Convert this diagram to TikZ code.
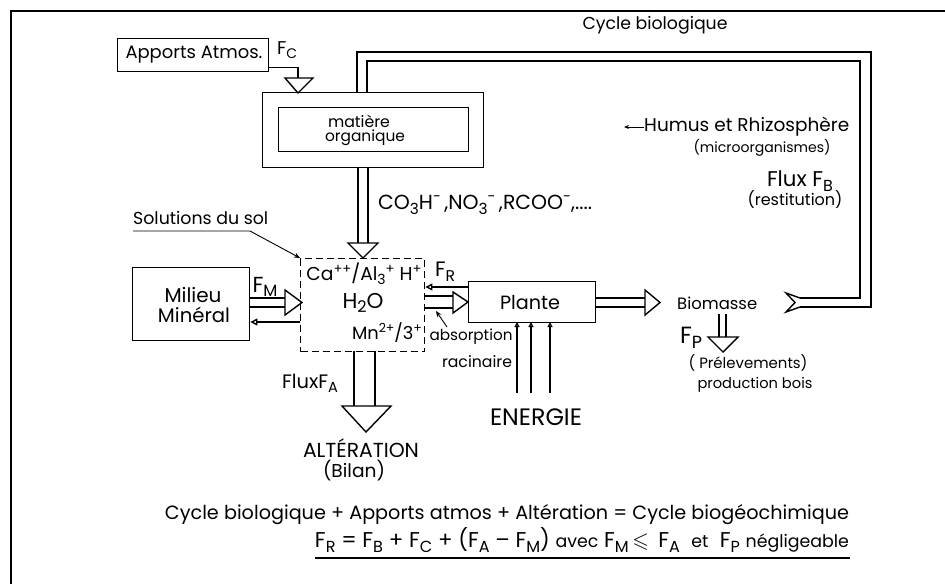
\documentclass[tikz,border=0pt]{standalone}
\usepackage{fontspec}
\setmainfont{Poppins}
\usepackage{amssymb}
\usetikzlibrary{arrows.meta,calc}
\newcommand\dn[1]{\raisebox{-0.4ex}{\scalebox{0.75}{#1}}}
\newcommand\up[1]{\raisebox{0.75ex}{\scalebox{0.7}{#1}}}
\newcommand\fitw[2]{\resizebox{#1pt}{!}{#2}}
\tikzset{
  ln/.style={line width=1.4pt},
  thinln/.style={line width=0.9pt},
  box/.style={draw,line width=1.4pt,inner sep=0pt,anchor=north west},
  lab/.style={inner sep=0pt,font=\fontsize{16}{16}\selectfont},
  opentip/.style={-{Triangle[open,length=7pt,width=7pt]}},
  smalltip/.style={-{Triangle[open,length=5pt,width=5pt]}},
}
\begin{document}
\begin{tikzpicture}[x=1pt,y=-1pt]
\useasboundingbox (0,0) rectangle (945,584);
% frame
\draw[line width=1.6pt] (945,11) -- (11,11) -- (11,584);

% Apports atmospheriques and humus
\node[box,minimum width=151pt,minimum height=33pt] (apports) at (117,38) {};
\node[lab] (appt) at (194,55) {\fitw{137}{Apports Atmos.}};
\node[lab] (fc) at (287,50) {\fitw{20}{F\dn{C}}};
\node[box,minimum width=221pt,minimum height=75pt] (humus) at (262,92) {};
\node[box,minimum width=190pt,minimum height=44pt] (mat) at (278,107) {};
\node[lab] (mat1) at (359,121) {\fitw{62}{matière}};
\node[lab] (mat2) at (365,138) {\fitw{80}{organique}};
\draw[ln] ($(apports.south east)+(0,-5)$) -| (298,78);
\draw[ln] (285,78) -- (313,78) -- (298,93) -- cycle;

% cycle biologique loop
\draw[ln] (357,92) -- (357,52) -- (871,52) -- (871,307) -- (800,307);
\draw[ln] (367,92) -- (367,61) -- (860,61) -- (860,298) -- (800,298);
\draw[ln] (800,298) -- (786,293) -- (795,302.5) -- (786,312) -- (800,307);
\node[lab] (cyc) at (655,25) {\fitw{145}{Cycle biologique}};
\node[lab] (flb) at (800,181) {\fitw{66}{Flux F\dn{B}}};
\node[lab] (rest) at (795,200) {\fitw{95}{(restitution)}};

% humus label
\node[lab,anchor=west] (hum) at (644,127) {\fitw{205}{Humus et Rhizosphère}};
\draw[thinln,-{Stealth[length=5pt,width=4pt]}] (hum.west) -- ++(-20,0);
\node[lab] (micro) at (762,148) {\fitw{137}{(microorganismes)}};

% humus -> solutions
\draw[ln] (358,167) -- (358,243) (368,167) -- (368,243);
\draw[ln] (348,243) -- (378,243) -- (363,258) -- cycle;
\node[lab,anchor=west] (ions) at (378,205) {\fitw{214}{CO\dn{3}H\up{-}\,,NO\dn{3}\up{-}\,,RCOO\up{-},....}};

% solutions du sol
\node[lab,anchor=west] (solt) at (133,218) {\fitw{135}{Solutions du sol}};
\node[box,dashed,dash pattern=on 7pt off 4pt,minimum width=124pt,minimum height=93pt] (sol) at (300,258) {};
\draw[thinln,-{Stealth[length=6pt,width=5pt]}] (133,231) -- (250,231) -- (sol.north west);
\node[lab] (ca) at (364,274) {\fitw{115}{Ca\up{++}/Al\dn{3}\up{+} H\up{+}}};
\node[lab] (h2o) at (363,303) {\fitw{41}{H\dn{2}O}};
\node[lab] (mn) at (387,333) {\fitw{70}{Mn\up{2+}/3\up{+}}};

% milieu mineral
\node[box,minimum width=117pt,minimum height=73pt] (milieu) at (132,267) {};
\node[lab] (mil1) at (193,295) {\fitw{57}{Milieu}};
\node[lab] (mil2) at (194,315) {\fitw{72}{Minéral}};
\node[lab] (fm) at (265,287) {\fitw{25}{F\dn{M}}};
\draw[ln] (milieu.east |- 0,298) -- (285,298) (milieu.east |- 0,307) -- (285,307);
\draw[ln] (285,290) -- (302,302.5) -- (285,315) -- cycle;
\draw[ln,opentip] (sol.west |- 0,322) -- (milieu.east |- 0,322);

% plante
\node[box,minimum width=127pt,minimum height=41pt] (plante) at (468,281) {};
\node[lab] (plt) at (530,302) {\fitw{60}{Plante}};
\node[lab] (fr) at (445,272) {\fitw{20}{F\dn{R}}};
\draw[ln,opentip] (plante.west |- 0,287) -- (sol.east |- 0,287);
\draw[ln] (sol.east |- 0,296) -- (453,296) (sol.east |- 0,308) -- (453,308);
\draw[ln] (453,292) -- (468,302) -- (453,313) -- cycle;
\node[lab] (abs) at (471,337) {\fitw{83}{absorption}};
\node[lab] (rac) at (477,362) {\fitw{70}{racinaire}};
\draw[thinln,-{Stealth[length=6pt,width=5pt]}] (447,327) -- (436,311);

% energie
\node[lab] (en) at (536,417) {\fitw{92}{ENERGIE}};
\foreach \xx in {517,531,550} \draw[line width=1.2pt,smalltip] (\xx,393) -- (\xx,322);

% biomasse
\draw[ln] (plante.east |- 0,298) -- (645,298) (plante.east |- 0,307) -- (645,307);
\draw[ln] (645,290) -- (660,302.5) -- (645,315) -- cycle;
\node[lab,anchor=west] (bio) at (677,303) {\fitw{80}{Biomasse}};
\draw[ln] (719,314) -- (719,337) (726,314) -- (726,337);
\draw[ln] (708,337) -- (738,337) -- (723,352) -- cycle;
\node[lab] (fp) at (691,338) {\fitw{22}{F\dn{P}}};
\node[lab] (prel) at (748,363) {\fitw{119}{( Prélevements)}};
\node[lab] (prod) at (755,385) {\fitw{115}{production bois}};

% alteration
\draw[ln] (354,351) -- (354,406) (375,351) -- (375,406);
\draw[ln] (342,406) -- (391,406) -- (366,432) -- cycle;
\node[lab] (fa) at (310,383) {\fitw{56}{FluxF\dn{A}}};
\node[lab] (alt) at (361,448) {\fitw{116}{ALTÉRATION}};
\node[lab] (bil) at (354,471) {\fitw{62}{(Bilan)}};

% formulas
\node[lab] (eq1) at (507,515) {\fitw{684}{Cycle biologique + Apports atmos + Altération = Cycle biogéochimique}};
\node[lab] (eq2) at (582,540) {\fitw{534}{F\dn{R} = F\dn{B} + F\dn{C} + (F\dn{A} -- F\dn{M}) {\fontsize{13}{13}\selectfont avec} F\dn{M}\,$\leqslant$\, F\dn{A} \ {\fontsize{13}{13}\selectfont et} \ F\dn{P} {\fontsize{13}{13}\selectfont négligeable}}};
\draw[line width=1.2pt] (315,558) -- (850,558);
\end{tikzpicture}
\end{document}
